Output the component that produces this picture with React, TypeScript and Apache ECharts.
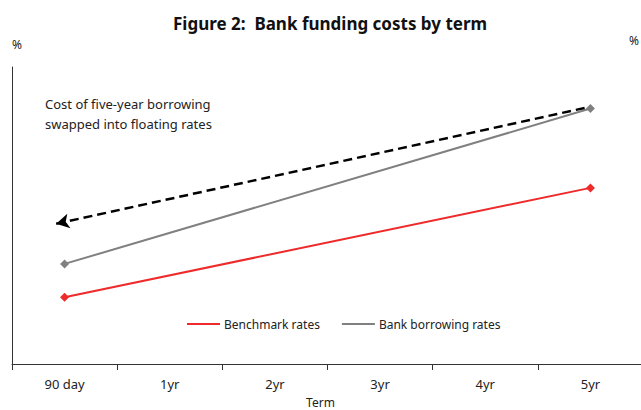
import React, { useEffect, useRef } from "react";
import * as echarts from "echarts";

const categories = ["90 day", "1yr", "2yr", "3yr", "4yr", "5yr"];
const benchmarkRates = [2.25, null, null, null, null, 5.93];
const bankBorrowingRates = [3.37, null, null, null, null, 8.6];
// arrow: from x (category index) / y value to x / y value
const arrowStart = [-0.08, 4.72];
const arrowEnd = [4.97, 8.64];

const FONT = "Noto Sans";

export default function App() {
  const ref = useRef<HTMLDivElement>(null);
  useEffect(() => {
    const chart = echarts.init(ref.current!, null, { renderer: "svg" });
    chart.setOption({
      animation: false,
      textStyle: { fontFamily: FONT, color: "#222" },
      title: {
        text: "Figure 2:  Bank funding costs by term",
        left: 168,
        top: 10,
        textStyle: { fontFamily: FONT, fontSize: 17, fontWeight: "bold", color: "#111" },
      },
      grid: { left: 12, top: 67, width: 631, height: 297, outerBoundsMode: "none", containLabel: false },
      legend: {
        top: 313,
        left: 182,
        itemWidth: 33,
        itemHeight: 2,
        itemGap: 22,
        icon: "rect",
        textStyle: { fontFamily: FONT, fontSize: 12, color: "#222", padding: [0, 0, 0, -1] },
        data: ["Benchmark rates", "Bank borrowing rates"],
      },
      xAxis: [
        {
          type: "category",
          data: categories,
          boundaryGap: true,
          axisLine: { onZero: false, lineStyle: { color: "#333", width: 1 } },
          axisTick: { show: true, length: 6, lineStyle: { color: "#333" } },
          axisLabel: { fontFamily: FONT, fontSize: 13, color: "#222", margin: 13 },
          name: "Term",
          nameLocation: "middle",
          nameGap: 32,
          nameTextStyle: { fontFamily: FONT, fontSize: 12, color: "#222", padding: [0, 14, 0, 0] },
        },
        {
          type: "value",
          min: -0.5,
          max: 5.5,
          show: false,
        },
      ],
      yAxis: [
        {
          type: "value",
          min: 0,
          max: 10,
          axisLine: { show: true, onZero: false, lineStyle: { color: "#333" } },
          axisTick: { show: false },
          axisLabel: { show: false },
          splitLine: { show: false },
          name: "%",
          nameGap: 17,
          nameTextStyle: { fontFamily: FONT, fontSize: 12, color: "#222", align: "left" },
        },
        {
          type: "value",
          min: 0,
          max: 10,
          position: "right",
          axisLine: { show: false, onZero: false },
          axisTick: { show: false },
          axisLabel: { show: false },
          splitLine: { show: false },
          name: "%",
          nameGap: 21,
          nameTextStyle: { fontFamily: FONT, fontSize: 12, color: "#222", align: "right", padding: [0, 4, 0, 0] },
        },
      ],
      graphic: [
        {
          type: "text",
          left: 45,
          top: 94,
          style: {
            text: "Cost of five-year borrowing\nswapped into floating rates",
            fontFamily: FONT,
            fontSize: 13,
            lineHeight: 20,
            fill: "#222",
          },
        },
      ],
      series: [
        {
          name: "Benchmark rates",
          type: "line",
          data: benchmarkRates,
          connectNulls: true,
          symbol: "diamond",
          symbolSize: 9,
          color: "#ee2a2a",
          lineStyle: { width: 2, color: "#ee2a2a" },
          itemStyle: { color: "#ee2a2a" },
          z: 3,
        },
        {
          name: "Bank borrowing rates",
          type: "line",
          data: bankBorrowingRates,
          connectNulls: true,
          symbol: "diamond",
          symbolSize: 9,
          color: "#808080",
          lineStyle: { width: 2, color: "#808080" },
          itemStyle: { color: "#808080" },
          z: 3,
        },
        {
          name: "arrow",
          type: "line",
          xAxisIndex: 1,
          data: [],
          z: 4,
          markLine: {
            silent: true,
            symbol: ["arrow", "none"],
            symbolSize: [11, 13],
            label: { show: false },
            lineStyle: { color: "#000", type: [9, 5], width: 2.5 },
            data: [[{ coord: arrowStart }, { coord: arrowEnd }]],
          },
        },
      ],
    });
    return () => chart.dispose();
  }, []);
  return <div ref={ref} style={{ position: "fixed", left: 0, top: 0, width: 641, height: 410, background: "#fff" }} />;
}
